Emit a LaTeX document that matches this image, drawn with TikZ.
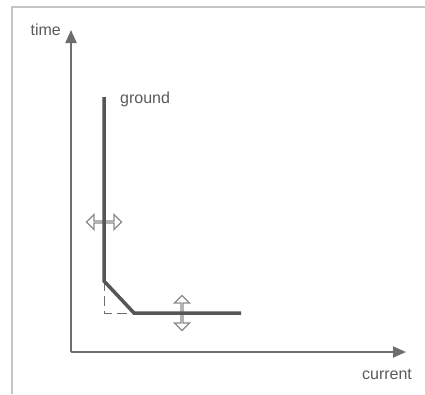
\documentclass[tikz,border=0pt]{standalone}
\usepackage{fontspec}
\setmainfont{Liberation Sans}
\usetikzlibrary{arrows.meta,shapes.arrows}
\definecolor{axisgray}{HTML}{6E6E6E}
\definecolor{curvegray}{HTML}{555555}
\definecolor{framegray}{HTML}{C4C4C4}
\definecolor{textgray}{HTML}{5A5A5A}
\definecolor{arrowgray}{HTML}{8A8A8A}
\tikzset{
  frameline/.style={draw=framegray,line width=1.5pt},
  axisline/.style={draw=axisgray,line width=2pt,-{Triangle[length=13pt,width=11pt]}},
  curveline/.style={draw=curvegray,line width=3.5pt},
  dashline/.style={draw=axisgray,line width=1pt,dash pattern=on 10pt off 5pt},
  lbl/.style={text=textgray,font=\fontsize{16}{18}\selectfont,inner sep=0pt},
  dblarrow/.style={double arrow,draw=arrowgray,fill=white,line width=1.3pt,
    double arrow head extend=4pt,double arrow head indent=0pt,
    minimum height=35pt,minimum width=15pt,inner sep=0pt}
}
\begin{document}
\begin{tikzpicture}[x=1pt,y=-1pt]
\useasboundingbox (0,0) rectangle (425,394);
% frame
\coordinate (fb) at (12,394);
\coordinate (ftl) at (12,7);
\coordinate (fr) at (425,7);
\draw[frameline] (fb) -- (ftl) -- (fr);
% axes
\coordinate (o) at (71,352);
\coordinate (ytip) at (71,30);
\coordinate (xtip) at (406,352);
\draw[axisline] (o) -- (ytip);
\draw[axisline] (o) -- (xtip);
\node[lbl,anchor=east] (time) at (61,30) {time};
\node[lbl] (current) at (387,374) {current};
% double arrows (behind the curve)
\node[dblarrow] (harrow) at (104,222) {};
\node[dblarrow,rotate=90] (varrow) at (182,313) {};
% curve
\coordinate (c1) at (104,97);
\coordinate (c2) at (104,281);
\coordinate (c3) at (134,313);
\coordinate (c4) at (241,313);
\coordinate (cc) at (104,313);
\draw[dashline] (c2) -- (cc) -- (c3);
\draw[curveline] (c1) -- (c2) -- (c3) -- (c4);
\node[lbl,anchor=west] (ground) at (120,99) {ground};
\end{tikzpicture}
\end{document}
